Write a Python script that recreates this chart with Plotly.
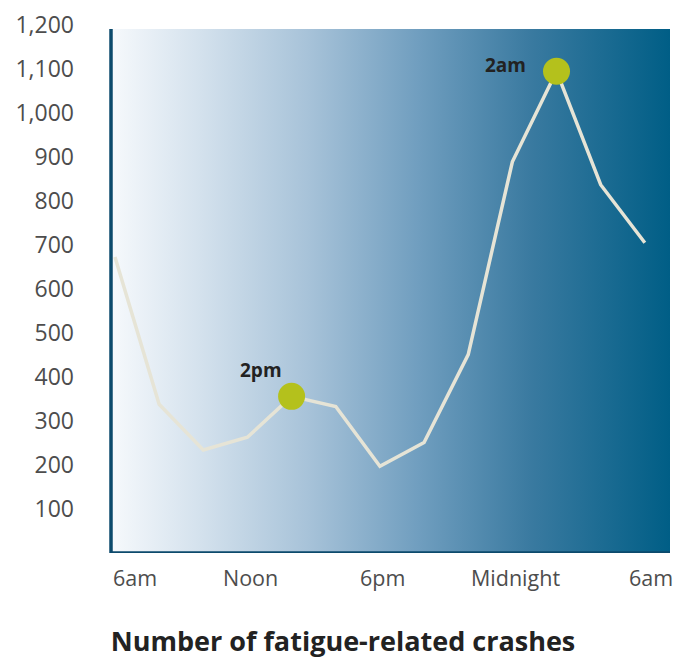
import plotly.graph_objects as go

# ---- data ----
hours = [6, 8, 10, 12, 14, 16, 18, 20, 22, 24, 26, 28, 30]
crashes = [673, 338, 234, 263, 356, 333, 197, 251, 451, 889, 1095, 837, 705]
peak_hours = [14, 26]
peak_values = [356, 1095]
peak_labels = ["2pm", "2am"]
x_tick_hours = [6, 12, 18, 24, 30]
x_tick_labels = ["6am", "Noon", "6pm", "Midnight", "6am"]
y_ticks = [100, 200, 300, 400, 500, 600, 700, 800, 900, 1000, 1100, 1200]
title_text = "Number of fatigue-related crashes"

# ---- style ----
X_MIN, X_MAX = 5.82, 31.14
Y_MIN, Y_MAX = 0, 1200
BG_TOP = 1191
AXIS_COLOR = "#0c4a6c"
LINE_COLOR = "#e6e4d6"
DOT_COLOR = "#b4c11c"
TEXT_GREY = "#4d4d4d"
FONT = "Open Sans"
W, H = 676, 659

fig = go.Figure()

# gradient background
fig.add_trace(go.Scatter(
    x=[X_MIN, X_MAX, X_MAX, X_MIN, X_MIN],
    y=[Y_MIN, Y_MIN, BG_TOP, BG_TOP, Y_MIN],
    mode="lines", line=dict(width=0), fill="toself",
    fillgradient=dict(type="horizontal", colorscale=[
        [0.0, "#f6f9fc"], [0.15, "#d6e3ee"], [0.35, "#a8c3d9"],
        [0.55, "#709ebf"], [0.75, "#3a7aa0"], [1.0, "#005e86"]]),
    hoverinfo="skip", showlegend=False))

# main line
fig.add_trace(go.Scatter(
    x=hours, y=crashes, mode="lines",
    line=dict(color=LINE_COLOR, width=3.5),
    showlegend=False))

# peak markers
fig.add_trace(go.Scatter(
    x=peak_hours, y=peak_values, mode="markers",
    marker=dict(color=DOT_COLOR, size=27, line=dict(width=0)),
    showlegend=False))

label_shift = [(-8, 26), (-29, 6)]
for h, v, t, (dx, dy) in zip(peak_hours, peak_values, peak_labels, label_shift):
    fig.add_annotation(x=h, y=v, text=t, showarrow=False,
                       xanchor="right", yanchor="middle",
                       xshift=dx, yshift=dy,
                       font=dict(family=FONT, size=19, color="#222222", weight="bold"))

# x tick labels
n = len(x_tick_hours)
for i, (h, t) in enumerate(zip(x_tick_hours, x_tick_labels)):
    if i == 0:
        kw = dict(xref="paper", x=0, xanchor="left", xshift=0)
    elif i == n - 1:
        kw = dict(xref="paper", x=1, xanchor="right", xshift=5)
    else:
        kw = dict(xref="x", x=h, xanchor="center", xshift=3)
    fig.add_annotation(yref="paper", y=0, yanchor="top", yshift=-8,
                       text=t, showarrow=False,
                       font=dict(family=FONT, size=21.5, color=TEXT_GREY), **kw)

# axis lines
fig.add_shape(type="line", xref="paper", yref="y", x0=0, x1=0, y0=Y_MIN, y1=BG_TOP,
              line=dict(color=AXIS_COLOR, width=3.5))
fig.add_shape(type="line", xref="paper", yref="y", x0=0, x1=1, y0=Y_MIN, y1=Y_MIN,
              line=dict(color=AXIS_COLOR, width=3.5))

fig.update_layout(
    width=W, height=H,
    margin=dict(l=111, r=6, t=25, b=106),
    paper_bgcolor="white", plot_bgcolor="white",
    showlegend=False,
    title=dict(text=title_text, xref="container", yref="container",
               x=343 / W, y=1 - 642 / H, xanchor="center", yanchor="middle",
               font=dict(family=FONT, size=27, color="#222222", weight="bold")),
    xaxis=dict(range=[X_MIN, X_MAX], showgrid=False, zeroline=False,
               showline=False, showticklabels=False, ticks=""),
    yaxis=dict(range=[Y_MIN, Y_MAX], showgrid=False, zeroline=False,
               showline=False, tickvals=y_ticks, tickformat=",", ticks="",
               ticklabelstandoff=36,
               tickfont=dict(family=FONT, size=23, color=TEXT_GREY)),
)

fig.write_html("out.html",
               config={"displayModeBar": False},
               post_script="document.body.style.margin='0';document.body.style.overflow='hidden';")
